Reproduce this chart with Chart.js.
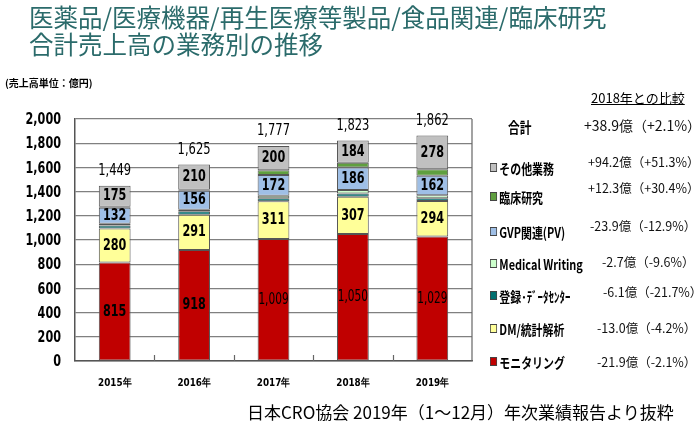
<!DOCTYPE html>
<html lang="ja">
<head>
<meta charset="utf-8">
<script src="https://cdn.jsdelivr.net/npm/chart.js@4/dist/chart.umd.min.js"></script>
<style>
  body { margin: 0; background: #fff; }
  #wrap { position: relative; width: 700px; height: 434px; overflow: hidden; font-family: "Noto Sans CJK JP", sans-serif; }
  #wrap canvas { position: absolute; left: 0; top: 0; }
  .t { position: absolute; white-space: nowrap; line-height: 1; }
  .title { color: #2b6b6b; font-size: 24.5px; left: 29px; }
  .sq { display: inline-block; width: 7px; height: 7px; border: 1px solid #444; margin-right: 3px; vertical-align: 2px; }
  .lab { font-weight: bold; font-size: 14px; left: 490px; transform: scaleX(0.78); transform-origin: 0 50%; }
  .chg { font-size: 12.5px; color: #111; }
</style>
</head>
<body>
<div id="wrap">
  <canvas id="barChart" width="700" height="434"></canvas>
  <div class="t title" style="top:5px;">医薬品/医療機器/再生医療等製品/食品関連/臨床研究</div>
  <div class="t title" style="top:32px;">合計売上高の業務別の推移</div>
  <div class="t" style="left:5px; top:78px; font-size:10px; font-weight:bold;">(売上高単位：億円)</div>
  <div class="t" style="left:591px; top:91px; font-size:13px; text-decoration:underline;">2018年との比較</div>
  <div id="legend"></div>
  <div class="t" style="left:247px; top:403px; font-size:17px;">日本CRO協会 2019年（1～12月）年次業績報告より抜粋</div>
</div>
<script>
"use strict"

// 年と業務別の売上高（億円）
const years = ['2015年', '2016年', '2017年', '2018年', '2019年'];
const monitoring = [815, 918, 1009, 1050, 1029];
const dmStat = [280, 291, 311, 307, 294];
const dataCenter = [25, 28, 25, 28, 22];
const medicalWriting = [15, 14, 20, 28, 25];
const gvp = [132, 156, 172, 186, 162];
const clinical = [7, 8, 40, 40, 53];
const others = [175, 210, 200, 184, 278];
const totals = [1449, 1625, 1777, 1823, 1862];
const yTicks = [0, 200, 400, 600, 800, 1000, 1200, 1400, 1600, 1800, 2000];

// 右側の凡例（上から順）と2018年との比較
const legendNames = ['その他業務', '臨床研究', 'GVP関連(PV)', 'Medical Writing', '登録･ﾃﾞｰﾀｾﾝﾀｰ', 'DM/統計解析', 'モニタリング'];
const legendChanges = ['+94.2億（+51.3%）', '+12.3億（+30.4%）', '-23.9億（-12.9%）', '-2.7億（-9.6%）', '-6.1億（-21.7%）', '-13.0億（-4.2%）', '-21.9億（-2.1%）'];
const totalChange = '+38.9億（+2.1%）';

const colors = {
    monitoring: '#c00000',
    dm: '#ffff99',
    dataCenter: '#007070',
    mw: '#ccffcc',
    gvp: '#9fbfe6',
    clinical: '#5f9f3f',
    others: '#c0c0c0'
};
const legendColors = [colors.others, colors.clinical, colors.gvp, colors.mw, colors.dataCenter, colors.dm, colors.monitoring];

const numFont = "'DejaVu Sans', sans-serif";

// 凡例をHTMLで組み立てる
function buildLegend() {
    const box = document.getElementById('legend');
    const labelY = [161, 190, 225, 257, 289, 322, 355];
    const changeY = [156, 182, 220, 256, 286, 322, 356];
    const changeX = [588, 588, 590, 602, 603, 597, 597];
    let html = '<div class="t lab" style="left:508px; top:119px; font-size:15px;">合計</div>';
    html += '<div class="t chg" style="left:584px; top:118px; font-size:14px;">' + totalChange + '</div>';
    for (let i = 0; i < legendNames.length; i++) {
        html += '<div class="t lab" style="top:' + labelY[i] + 'px;"><span class="sq" style="background:' + legendColors[i] + '"></span>' + legendNames[i] + '</div>';
        html += '<div class="t chg" style="left:' + changeX[i] + 'px; top:' + changeY[i] + 'px;">' + legendChanges[i] + '</div>';
    }
    box.innerHTML = html;
}

// 横に詰めた文字を書く
function narrowText(ctx, text, x, y, squeeze) {
    ctx.save();
    ctx.translate(x, y);
    ctx.scale(squeeze, 1);
    ctx.fillText(text, 0, 0);
    ctx.restore();
}

// 枠線・目盛り・軸ラベル・数値ラベル
const decorPlugin = {
    id: 'decor',
    afterDatasetsDraw(chart) {
        const ctx = chart.ctx;
        const area = chart.chartArea;
        const x = chart.scales.x;
        const y = chart.scales.y;
        ctx.save();
        ctx.strokeStyle = '#666';
        ctx.lineWidth = 1.2;
        ctx.beginPath();
        ctx.moveTo(area.right, area.top);
        ctx.lineTo(area.right, area.bottom);
        for (let i = 0; i < years.length - 1; i++) {
            const px = Math.round(x.getPixelForValue(i + 0.5)) + 0.5;
            ctx.moveTo(px, area.bottom);
            ctx.lineTo(px, area.bottom - 6);
        }
        ctx.stroke();

        ctx.fillStyle = '#000';
        ctx.textBaseline = 'middle';

        // 縦軸の目盛りラベル
        ctx.textAlign = 'right';
        ctx.font = 'bold 16px ' + numFont;
        yTicks.forEach((v) => {
            narrowText(ctx, v.toLocaleString('en-US'), area.left - 14, y.getPixelForValue(v) + 1, 0.7);
        });

        // 横軸のラベル
        ctx.textAlign = 'center';
        ctx.font = 'bold 11px ' + numFont;
        years.forEach((lab, i) => {
            narrowText(ctx, lab, x.getPixelForValue(i), area.bottom + 22, 0.8);
        });

        // 棒の中の数値
        [0, 1, 4, 6].forEach((di) => {
            const meta = chart.getDatasetMeta(di);
            const values = chart.data.datasets[di].data;
            meta.data.forEach((el, i) => {
                const v = values[i];
                const big = v >= 1000;
                ctx.font = (big ? '' : 'bold ') + '16px ' + numFont;
                narrowText(ctx, big ? v.toLocaleString('en-US') : String(v), el.x, (el.y + el.base) / 2, big ? 0.66 : 0.7);
            });
        });

        // 合計
        ctx.font = '16px ' + numFont;
        const top = chart.getDatasetMeta(6);
        top.data.forEach((el, i) => {
            narrowText(ctx, totals[i].toLocaleString('en-US'), el.x, el.y - 15, 0.72);
        });
        ctx.restore();
    }
};

function makeSet(label, data, color) {
    return {
        label: label,
        data: data,
        backgroundColor: color,
        borderColor: '#555',
        borderWidth: 1,
        borderSkipped: false,
        barPercentage: 0.4,
        categoryPercentage: 1.0
    };
}

function buildChart() {
    new Chart(document.getElementById('barChart'), {
        type: 'bar',
        data: {
            labels: years,
            datasets: [
                makeSet('モニタリング', monitoring, colors.monitoring),
                makeSet('DM/統計解析', dmStat, colors.dm),
                makeSet('登録･ﾃﾞｰﾀｾﾝﾀｰ', dataCenter, colors.dataCenter),
                makeSet('Medical Writing', medicalWriting, colors.mw),
                makeSet('GVP関連(PV)', gvp, colors.gvp),
                makeSet('臨床研究', clinical, colors.clinical),
                makeSet('その他業務', others, colors.others)
            ]
        },
        options: {
            responsive: false,
            animation: false,
            layout: { padding: { left: 0, top: 119, right: 228, bottom: 0 } },
            plugins: { legend: { display: false }, tooltip: { enabled: false } },
            scales: {
                x: {
                    stacked: true,
                    grid: { display: false },
                    border: { display: true, color: '#555', width: 1.5 },
                    ticks: { display: false },
                    afterFit: (s) => { s.height = 73; }
                },
                y: {
                    stacked: true,
                    min: 0,
                    max: 2000,
                    afterBuildTicks: (s) => { s.ticks = yTicks.map(v => ({ value: v })); },
                    grid: { color: '#808080', lineWidth: 1.2, drawTicks: false },
                    border: { display: true, color: '#555', width: 1.5 },
                    ticks: { display: false },
                    afterFit: (s) => { s.width = 75; }
                }
            }
        },
        plugins: [decorPlugin]
    });
}

buildLegend();
buildChart();
</script>
</body>
</html>
